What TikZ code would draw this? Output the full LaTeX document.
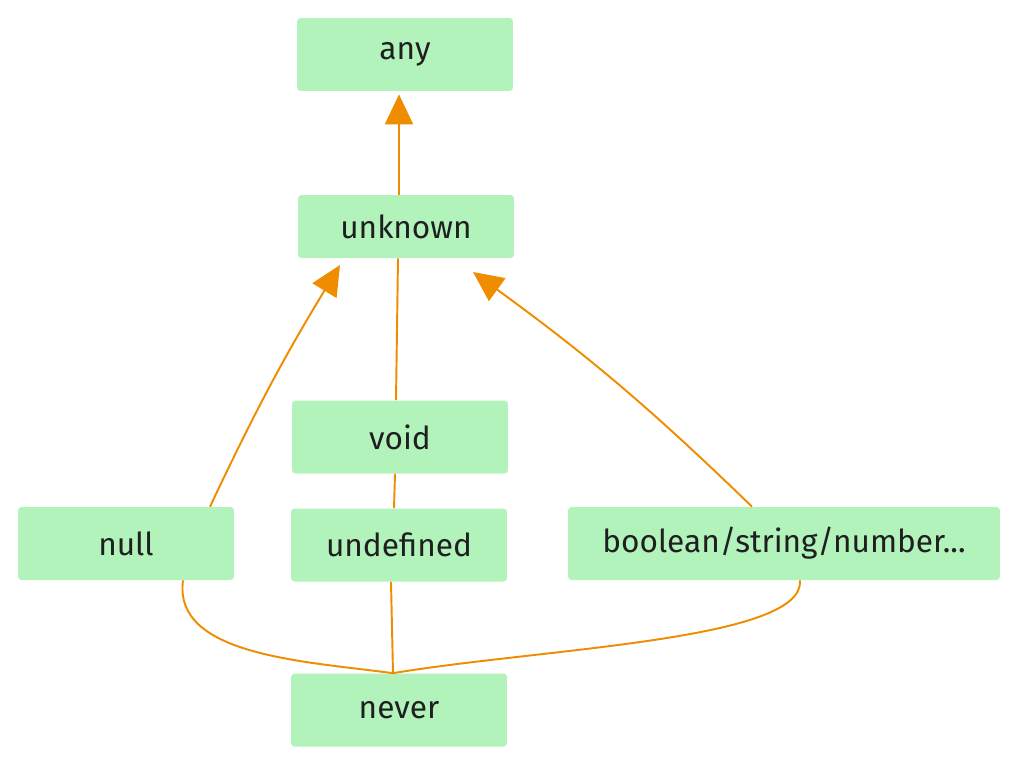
\documentclass[tikz,border=0pt]{standalone}
\usepackage{fontspec}
\setmainfont{Fira Sans}
\usetikzlibrary{arrows.meta,calc}
\definecolor{typegreen}{HTML}{B2F2BB}
\definecolor{linkorange}{HTML}{F08C00}

\begin{document}
\begin{tikzpicture}[x=0.02cm,y=-0.02cm,every node/.style={font=\fontsize{18}{21}\selectfont,text=black!88},
    typebox/.style={fill=typegreen,rounded corners=2pt,minimum width=4.32cm,minimum height=1.46cm,inner sep=0pt},
    link/.style={draw=linkorange,line width=1.1pt},
    up/.style={link,-{Triangle[width=0.56cm,length=0.6cm]}}]
                \useasboundingbox (0,0) rectangle (1018,765);
                \node[typebox] (any) at (405,54.5) {any};
                \node[typebox,minimum height=1.26cm] (unknown) at (406,226.5) {unknown};
                \node[typebox] (void) at (400,437) {void};
                \node[typebox] (null) at (126,543.5) {null};
                \node[typebox] (undef) at (399,545) {undefined};
                \node[typebox,minimum width=8.64cm] (prim) at (784,543.5) {boolean/string/number...};
                \node[typebox] (never) at (399,710) {never};
                % up to the top types
                \coordinate (nulltip) at (340,265);
                \coordinate (primtip) at (473,272);
                \draw[up] ($(unknown.north)+(-7,0)$) -- ($(any.south)+(-6,3)$);
                \draw[up] ($(null.north)+(84,0)$) to[bend left=3] (nulltip);
                \draw[up] ($(prim.north)+(-32,0)$) to[bend right=4] (primtip);
                \draw[link] ($(unknown.south)+(-8,0)$) -- ($(void.north)+(-4,0)$);
                \draw[link] ($(void.south)+(-5,0)$) -- ($(undef.north)+(-5,0)$);
                % down to never
                \draw[link] ($(undef.south)+(-8,0)$) -- ($(never.north)+(-6,0)$);
                \draw[link] ($(null.south)+(57,0)$) .. controls +(-10,75) and +(-90,-12) .. ($(never.north)+(-6,0)$);
                \draw[link] ($(prim.south)+(16,0)$) .. controls +(5,60) and +(150,-25) .. ($(never.north)+(-6,0)$);
            \end{tikzpicture}
\end{document}
